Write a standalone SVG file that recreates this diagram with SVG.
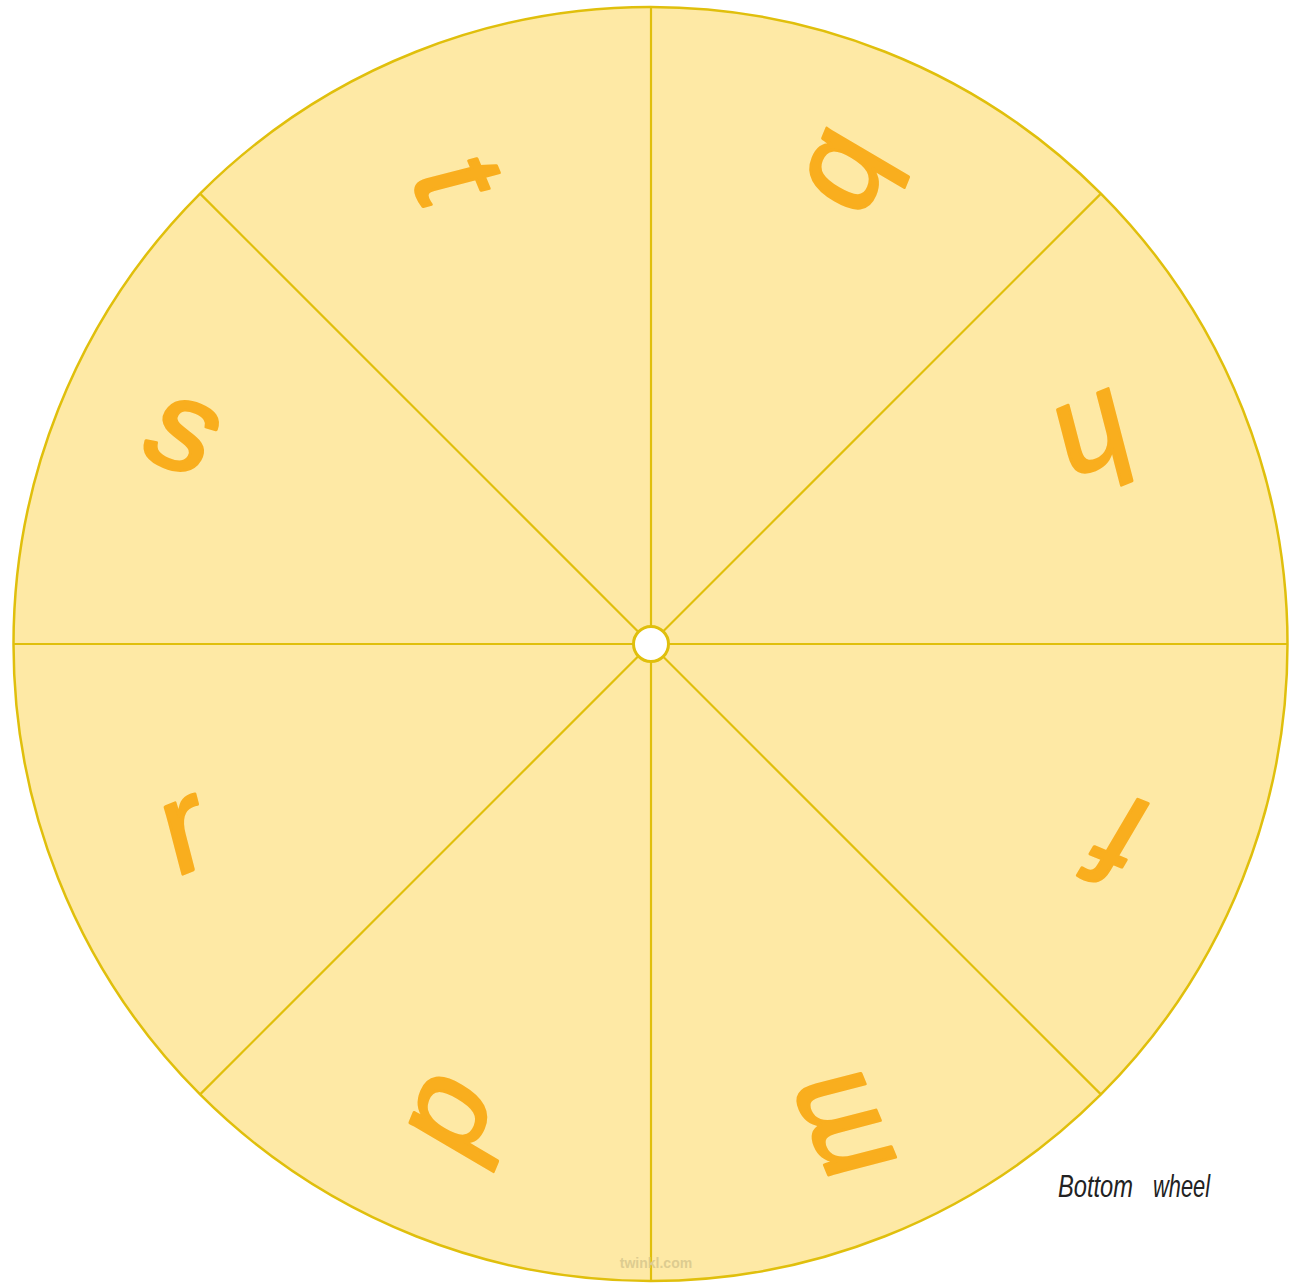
<svg xmlns="http://www.w3.org/2000/svg" width="1295" height="1283" viewBox="0 0 1295 1283">
  <style>
    .rim { fill: #fee9a5; stroke: #e0bf0c; stroke-width: 2.5; }
    .div { stroke: #e0bf0c; stroke-width: 2.2; fill: none; }
    .hub { fill: #ffffff; stroke: #e0bf0c; stroke-width: 3; }
    .ltr { font-family: "Liberation Sans", "DejaVu Sans", sans-serif; font-size: 130px; fill: #f9ae1e; stroke: #f9ae1e; stroke-width: 3; stroke-linejoin: round; text-anchor: middle; }
    .label { font-family: "Liberation Sans", "DejaVu Sans", sans-serif; font-style: italic; font-size: 32px; fill: #222222; }
    .mark { font-family: "Liberation Sans", "DejaVu Sans", sans-serif; font-weight: bold; font-size: 14px; fill: #ddcc90; text-anchor: middle; }
  </style>
  <rect width="1295" height="1283" fill="#ffffff"/>
  <g id="wheel">
    <circle class="rim" cx="650.5" cy="644" r="637"/>
  </g>
  <g id="dividers">
    <line class="div" x1="651" y1="7" x2="651" y2="1281"/>
    <line class="div" x1="13.5" y1="644" x2="1287.5" y2="644"/>
    <line class="div" x1="200.1" y1="193.6" x2="1100.9" y2="1094.4"/>
    <line class="div" x1="1100.9" y1="193.6" x2="200.1" y2="1094.4"/>
  </g>
  <g id="hub">
    <circle class="hub" cx="651" cy="644" r="17.5"/>
  </g>
  <g id="letter-t" transform="translate(458,180) rotate(67.5) skewX(-8)">
    <text class="ltr" x="0" y="43">t</text>
  </g>
  <g id="letter-b" transform="translate(857,178) rotate(112.5) skewX(-8)">
    <text class="ltr" x="0" y="47">b</text>
  </g>
  <g id="letter-h" transform="translate(1095,445) rotate(157.5) skewX(-8)">
    <text class="ltr" x="0" y="47">h</text>
  </g>
  <g id="letter-f" transform="translate(1118,842) rotate(202.5) skewX(-8)">
    <text class="ltr" x="0" y="47">f</text>
  </g>
  <g id="letter-m" transform="translate(845,1124) rotate(247.5) skewX(-8)">
    <text class="ltr" x="0" y="34">m</text>
  </g>
  <g id="letter-p" transform="translate(463,1122) rotate(292.5) skewX(-8)">
    <text class="ltr" x="0" y="20">p</text>
  </g>
  <g id="letter-r" transform="translate(186,836) rotate(337.5) skewX(-8)">
    <text class="ltr" x="0" y="34">r</text>
  </g>
  <g id="letter-s" transform="translate(182,436) rotate(22.5) skewX(-8)">
    <text class="ltr" x="0" y="34">s</text>
  </g>
  <g id="caption">
    <text class="label" y="1197"><tspan x="1058" textLength="75" lengthAdjust="spacingAndGlyphs">Bottom</tspan><tspan x="1153" textLength="57" lengthAdjust="spacingAndGlyphs">wheel</tspan></text>
  </g>
  <g id="watermark">
    <text class="mark" x="656" y="1268">twinkl.com</text>
  </g>
</svg>
